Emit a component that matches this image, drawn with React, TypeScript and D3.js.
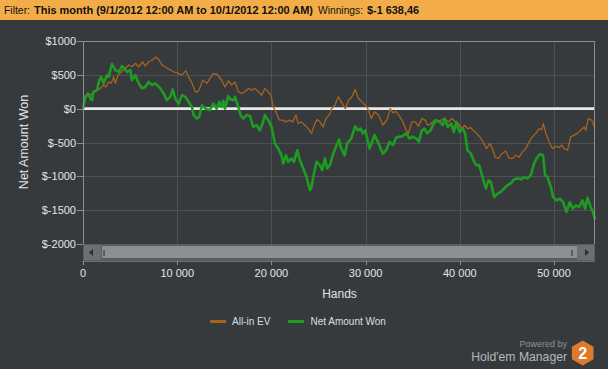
import React from "react";
import * as d3 from "d3";

// hands played vs. dollars
const wonSeries: [number, number][] = [
  [0, 0], [250, 175], [530, 225], [780, 150], [955, 125], [1130, 250], [1485, 275], [1730, 420],
  [1945, 470], [2195, 375], [2545, 495], [2725, 470], [3075, 660], [3430, 570], [3785, 545],
  [4140, 630], [4420, 595], [4670, 545], [5020, 570], [5200, 420], [5550, 495], [5910, 375],
  [6260, 300], [6610, 320], [6970, 395], [7320, 350], [7670, 375], [8200, 300], [8560, 225],
  [8910, 125], [9260, 175], [9520, 285], [9790, 150], [10150, 75], [10500, 200], [10860, 175],
  [11210, 100], [11570, 25], [11740, -95], [12100, -145], [12340, -120], [12630, 50], [12980, 0],
  [13480, -20], [13830, 75], [14190, 0], [14470, 100], [14720, 25], [14890, 115], [15070, 0],
  [15420, 185], [15670, 135], [15950, 125], [16130, 175], [16370, 75], [16730, -95], [17010, -145],
  [17370, -95], [17720, -110], [18070, -270], [18430, -245], [18780, -320], [19060, -220],
  [19310, -95], [19660, -170], [20020, -270], [20370, -515], [20720, -590], [21080, -690],
  [21250, -810], [21540, -690], [21780, -785], [22140, -735], [22390, -785], [22740, -615],
  [23020, -760], [23380, -885], [23730, -1010], [24090, -1205], [24260, -1155], [24510, -960],
  [24790, -785], [25150, -835], [25390, -910], [25680, -735], [25920, -885], [26210, -835],
  [26560, -665], [26920, -540], [27190, -455], [27340, -565], [27770, -690], [28040, -515],
  [28470, -440], [28650, -365], [28890, -260], [29180, -320], [29460, -295], [29710, -365],
  [29960, -320], [30420, -590], [30950, -390], [31300, -490], [31830, -665], [32180, -615],
  [32540, -490], [32890, -540], [33240, -425], [33600, -415], [33950, -405], [34310, -365],
  [34660, -440], [35010, -415], [35370, -440], [35650, -490], [35970, -320], [36260, -295],
  [36530, -365], [36890, -320], [37140, -245], [37490, -170], [37850, -195], [38200, -245],
  [38380, -145], [38730, -270], [39080, -220], [39370, -345], [39610, -195], [39970, -345],
  [40320, -295], [40560, -365], [40810, -615], [41170, -665], [41520, -785], [41770, -835],
  [42050, -835], [42410, -1010], [42760, -1180], [43050, -1060], [43290, -1085], [43640, -1305],
  [44000, -1255], [44350, -1230], [44700, -1180], [45060, -1130], [45410, -1105], [45760, -1045],
  [46120, -1030], [46470, -1045], [46820, -1015], [47180, -1030], [47530, -985], [47880, -810],
  [48140, -735], [48490, -675], [48840, -690], [49050, -985], [49300, -1010], [49660, -1155],
  [49900, -1305], [50260, -1355], [50610, -1330], [50970, -1380], [51320, -1525], [51670, -1380],
  [51960, -1475], [52310, -1430], [52660, -1455], [53020, -1355], [53300, -1475], [53550, -1315],
  [53900, -1455], [54180, -1550], [54350, -1638],
];

const evSeries: [number, number][] = [
  [0, 0], [250, 150], [530, 225], [780, 200], [1130, 250], [1485, 275], [1840, 300], [2195, 350],
  [2440, 320], [2725, 395], [3010, 375], [3250, 470], [3430, 375], [3720, 495], [4070, 545],
  [4490, 595], [4850, 645], [5200, 620], [5550, 670], [5910, 620], [6330, 690], [6610, 630],
  [6970, 690], [7320, 715], [7740, 765], [8090, 715], [8380, 645], [8730, 620], [9160, 580],
  [9610, 545], [10150, 520], [10500, 495], [10930, 560], [11210, 470], [11570, 375], [11920, 250],
  [12200, 250], [12450, 320], [12700, 420], [13150, 375], [13470, 445], [13830, 520], [14260, 505],
  [14720, 420], [15070, 320], [15420, 410], [15780, 350], [16130, 395], [16490, 250], [16840, 225],
  [17190, 250], [17550, 300], [17900, 275], [18250, 300], [18610, 250], [18960, 200], [19310, 300],
  [19660, 250], [19950, 200], [20190, 25], [20480, -45], [20840, -170], [21190, -170], [21540, -195],
  [21900, -170], [22250, -195], [22600, -95], [22850, -220], [23200, -195], [23550, -245],
  [23910, -295], [24260, -365], [24620, -220], [24860, -160], [25150, -195], [25500, -270],
  [25790, -145], [26140, -95], [26380, 0], [26740, 50], [27100, 175], [27410, 100], [27840, 0],
  [28190, 125], [28540, 175], [28890, 285], [29250, 150], [29600, 100], [29960, 50], [30240, 0],
  [30600, -145], [30950, -45], [31370, -95], [31830, -245], [32290, -160], [32610, 0], [32890, -60],
  [33240, -45], [33600, -110], [33950, -195], [34310, -320], [34550, -365], [34900, -195],
  [35260, -195], [35610, -260], [35970, -145], [36320, -170], [36600, -245], [36960, -220],
  [37310, -170], [37670, -195], [38020, -170], [38380, -145], [38800, -195], [39150, -145],
  [39510, -195], [39860, -220], [40210, -295], [40500, -245], [40810, -295], [41170, -280],
  [41420, -320], [41770, -365], [42120, -415], [42470, -490], [42830, -590], [43180, -515],
  [43470, -590], [43750, -715], [44100, -735], [44460, -665], [44880, -625], [45240, -735],
  [45590, -735], [45940, -690], [46300, -715], [46650, -640], [47000, -590], [47360, -490],
  [47710, -415], [48060, -365], [48420, -295], [48700, -310], [48880, -220], [49130, -365],
  [49480, -490], [49830, -590], [50190, -555], [50540, -575], [50820, -540], [51070, -590],
  [51430, -615], [51780, -415], [52140, -390], [52490, -365], [52840, -320], [53200, -270],
  [53370, -320], [53650, -145], [54010, -170], [54350, -295],
];

const yTicks = [1000, 500, 0, -500, -1000, -1500, -2000];
const xTicks = [0, 10000, 20000, 30000, 40000, 50000];
const maxHands = 54350;

const W = 608;
const H = 369;
const plot = { left: 83, right: 595, top: 41, bottom: 244 };
const font = "'Liberation Sans', Arial, sans-serif";

const fmtHands = (v: number) => d3.format(",")(v).replace(/,/g, " ");

const App = () => {
  const x = d3.scaleLinear().domain([0, maxHands]).range([plot.left, plot.right]);
  const y = d3.scaleLinear().domain([-2000, 1000]).range([plot.bottom, plot.top]);

  const line = d3
    .line<[number, number]>()
    .x((d) => x(d[0]))
    .y((d) => y(d[1]));

  // the navigator axis below the scrollbar uses the same domain
  const axisY = 261;

  const hex = d3.range(6).map((i) => {
    const a = (Math.PI / 3) * i - Math.PI / 2;
    return [582.7 + 12.5 * Math.cos(a), 353 + 12.5 * Math.sin(a)];
  });

  return (
    <svg
      width={W}
      height={H}
      style={{ position: "absolute", left: 0, top: 0, display: "block" }}
      fontFamily={font}
    >
      <rect width={W} height={H} fill="#373a3d" />

      {/* filter header */}
      <rect width={W} height={20} fill="#f2ad48" />
      <g fontSize={11} fill="#111">
        <text x={4} y={14} textLength={26} lengthAdjust="spacingAndGlyphs">Filter:</text>
        <text x={34} y={14} fontWeight="bold" textLength={279} lengthAdjust="spacingAndGlyphs">
          This month (9/1/2012 12:00 AM to 10/1/2012 12:00 AM)
        </text>
        <text x={318} y={14} textLength={45} lengthAdjust="spacingAndGlyphs">Winnings:</text>
        <text x={367} y={14} fontWeight="bold" textLength={52} lengthAdjust="spacingAndGlyphs">
          $-1 638,46
        </text>
      </g>

      {/* grid */}
      <g stroke="#4e5155" strokeWidth={1}>
        {yTicks.map((t) => (
          <line key={"gy" + t} x1={plot.left} x2={plot.right} y1={Math.round(y(t)) + 0.5} y2={Math.round(y(t)) + 0.5} />
        ))}
        {xTicks.slice(1).map((t) => (
          <line key={"gx" + t} y1={plot.top} y2={plot.bottom} x1={Math.round(x(t)) + 0.5} x2={Math.round(x(t)) + 0.5} />
        ))}
      </g>

      {/* zero line */}
      <line x1={plot.left} x2={plot.right} y1={y(0)} y2={y(0)} stroke="#e9e9e9" strokeWidth={2.6} />

      {/* series */}
      <path d={line(evSeries) || ""} fill="none" stroke="#a8621f" strokeWidth={1.3} strokeLinejoin="round" />
      <path d={line(wonSeries) || ""} fill="none" stroke="#1e9c22" strokeWidth={2.6} strokeLinejoin="round" />

      {/* plot frame */}
      <path
        d={`M${plot.left + 0.5},${plot.bottom}V${plot.top + 0.5}H${plot.right - 0.5}V${plot.bottom}`}
        fill="none"
        stroke="#8b8e91"
      />

      {/* y axis */}
      <g fontSize={11} fill="#e4e4e4" textAnchor="end">
        {yTicks.map((t) => (
          <g key={"ty" + t}>
            <line x1={77} x2={plot.left} y1={Math.round(y(t)) + 0.5} y2={Math.round(y(t)) + 0.5} stroke="#8b8e91" />
            <text x={76} y={y(t) + 4}>{`$${t}`}</text>
          </g>
        ))}
      </g>
      <text
        transform="translate(28,142) rotate(-90)"
        textAnchor="middle"
        fontSize={12.5}
        fill="#e0e0e0"
      >
        Net Amount Won
      </text>

      {/* scrollbar */}
      <rect x={plot.left} y={244} width={plot.right - plot.left} height={17} fill="#5a5d60" />
      <rect x={84} y={245} width={17} height={15} fill="#6c6f72" />
      <rect x={577} y={245} width={17} height={15} fill="#6c6f72" />
      <rect x={102} y={246} width={475} height={12} fill="#8d9093" />
      <rect x={103} y={250} width={2} height={6} fill="#5a5d60" />
      <rect x={571} y={250} width={2} height={6} fill="#5a5d60" />
      <path d="M89,252.5L93,249V256Z" fill="#2a2c2e" />
      <path d="M589,252.5L585,249V256Z" fill="#2a2c2e" />

      {/* x axis */}
      <line x1={82} x2={plot.right} y1={axisY + 0.5} y2={axisY + 0.5} stroke="#6c6f72" />
      <g fontSize={11} fill="#e4e4e4" textAnchor="middle">
        {xTicks.map((t) => (
          <g key={"tx" + t}>
            <line x1={Math.round(x(t)) + 0.5} x2={Math.round(x(t)) + 0.5} y1={axisY} y2={axisY + 4} stroke="#8b8e91" />
            <text x={x(t)} y={277}>{fmtHands(t)}</text>
          </g>
        ))}
      </g>
      <text x={339.5} y={298} textAnchor="middle" fontSize={12} fill="#e0e0e0">
        Hands
      </text>

      {/* legend */}
      <g fontSize={10} fill="#dedede">
        <line x1={210} x2={226} y1={321.5} y2={321.5} stroke="#a8621f" strokeWidth={3} />
        <text x={232} y={325}>All-in EV</text>
        <line x1={288} x2={304} y1={321.5} y2={321.5} stroke="#1e9c22" strokeWidth={3} />
        <text x={310.5} y={325}>Net Amount Won</text>
      </g>

      {/* branding */}
      <text x={567} y={347} textAnchor="end" fontSize={9} fill="#8e9194">Powered by</text>
      <text x={567} y={361} textAnchor="end" fontSize={12.2} fill="#b4b7ba">Hold'em Manager</text>
      <polygon points={hex.map((p) => p.join(",")).join(" ")} fill="#de7a2e" />
      <text x={582.7} y={359} textAnchor="middle" fontSize={16} fontWeight="bold" fill="#fff">2</text>
    </svg>
  );
};

export default App;
